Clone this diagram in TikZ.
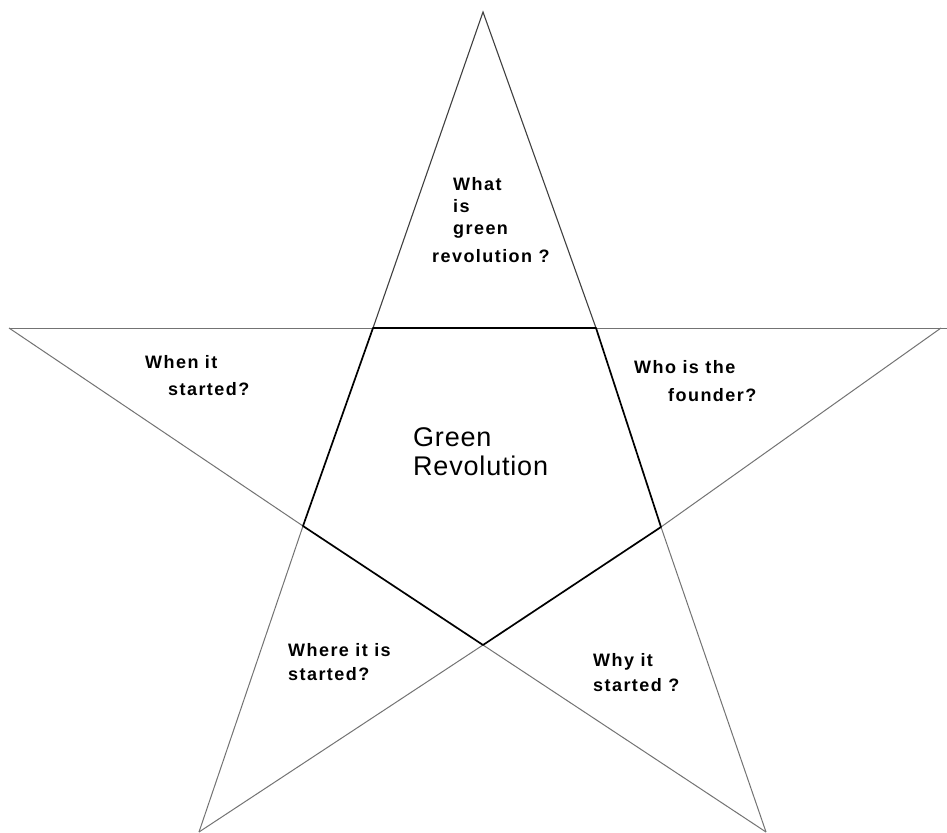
\documentclass[tikz,border=0pt]{standalone}
\usepackage{fontspec}
\setmainfont{Liberation Sans}
\newfontfamily\lblfont[LetterSpace=8]{Liberation Sans}
\newfontfamily\bigfont[LetterSpace=3]{Liberation Sans}
\begin{document}
\begin{tikzpicture}[x=1pt,y=-1pt,
  outer/.style={draw=black!55,line width=1pt},
  toped/.style={draw=black!75,line width=1.1pt},
  inner/.style={draw=black,line width=1.7pt},
  lbl/.style={font=\lblfont\bfseries\fontsize{18}{21}\selectfont,anchor=base west,inner sep=0pt},
  big/.style={font=\bigfont\fontsize{27}{32}\selectfont,anchor=base west,inner sep=0pt}]
\fill[white] (0,0) rectangle (947,832);
\useasboundingbox (0,0) rectangle (947,832);
% vertices
\coordinate (T) at (483,12);
\coordinate (L) at (9,328);
\coordinate (R) at (941,328);
\coordinate (Rh) at (947,328);
\coordinate (BL) at (199,832);
\coordinate (BR) at (766,832);
\coordinate (A) at (373,328);
\coordinate (B) at (596,328);
\coordinate (C) at (661,527);
\coordinate (D) at (483,645);
\coordinate (E) at (303,526);
% outer lines
\draw[toped] (A) -- (T) -- (B);
\draw[outer] (L) -- (A);
\draw[outer] (B) -- (Rh);
\draw[outer] (L) -- (E);
\draw[outer] (D) -- (BR);
\draw[outer] (R) -- (C);
\draw[outer] (D) -- (BL);
\draw[outer] (E) -- (BL);
\draw[outer] (C) -- (BR);
% inner pentagon
\draw[inner,line join=round] (A) -- (B) -- (C) -- (D) -- (E) -- cycle;
% labels
\node[lbl] (w1) at (453,190) {What};
\node[lbl] (w2) at (453,212) {is};
\node[lbl] (w3) at (453,234) {green};
\node[lbl] (w4) at (432,262) {revolution ?};
\node[lbl] (l1) at (145,368) {When it};
\node[lbl] (l2) at (168,395) {started?};
\node[lbl] (r1) at (634,373) {Who is the};
\node[lbl] (r2) at (668,401) {founder?};
\node[lbl] (bl1) at (288,656) {Where it is};
\node[lbl] (bl2) at (288,680) {started?};
\node[lbl] (br1) at (593,666) {Why it};
\node[lbl] (br2) at (593,691) {started ?};
\node[big] (g1) at (413,446) {Green};
\node[big] (g2) at (413,475) {Revolution};
\end{tikzpicture}
\end{document}
